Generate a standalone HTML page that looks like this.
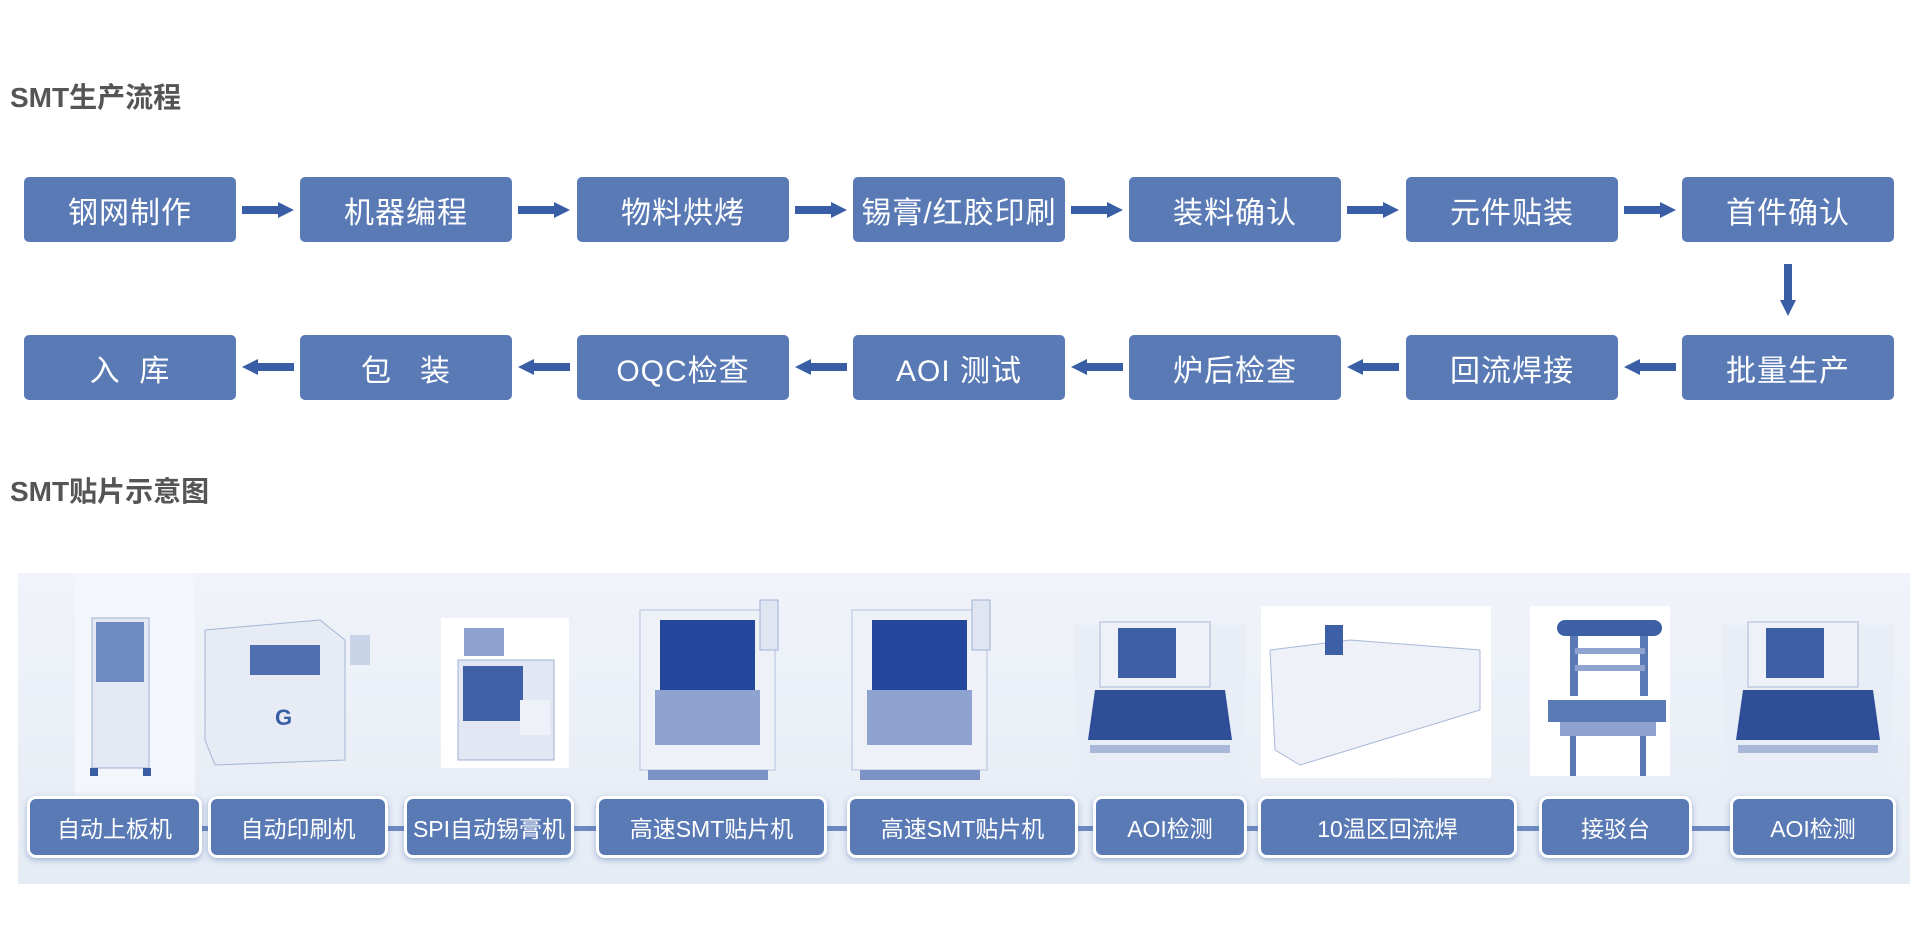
<!DOCTYPE html>
<html><head><meta charset="utf-8">
<style>
*{margin:0;padding:0;box-sizing:border-box}
body{width:1920px;height:928px;background:#fff;position:relative;overflow:hidden;font-family:"Liberation Sans","Noto Sans CJK SC",sans-serif}
.t{position:absolute;left:10px;font-weight:bold;font-size:28px;color:#555}
.b{position:absolute;width:212px;height:65px;background:#5a7ab6;border-radius:5px;color:#fff;font-size:30px;display:flex;align-items:center;justify-content:center;letter-spacing:1px}
.l{position:absolute;top:796px;height:62px;background:#5a7ab6;border:3px solid #fff;border-radius:9px;color:#fff;font-size:23px;display:flex;align-items:center;justify-content:center;box-shadow:0 2px 6px rgba(90,120,180,.5)}
</style></head><body>
<div class="t" style="top:76px">SMT生产流程</div>
<div class="t" style="top:470px">SMT贴片示意图</div>

<div class="b" style="left:24px;top:177px">钢网制作</div>
<div class="b" style="left:300px;top:177px">机器编程</div>
<div class="b" style="left:577px;top:177px">物料烘烤</div>
<div class="b" style="left:853px;top:177px">锡膏/红胶印刷</div>
<div class="b" style="left:1129px;top:177px">装料确认</div>
<div class="b" style="left:1406px;top:177px">元件贴装</div>
<div class="b" style="left:1682px;top:177px">首件确认</div>

<div class="b" style="left:24px;top:335px">入&nbsp;&nbsp;库</div>
<div class="b" style="left:300px;top:335px">包&nbsp;&nbsp;&nbsp;装</div>
<div class="b" style="left:577px;top:335px">OQC检查</div>
<div class="b" style="left:853px;top:335px">AOI 测试</div>
<div class="b" style="left:1129px;top:335px">炉后检查</div>
<div class="b" style="left:1406px;top:335px">回流焊接</div>
<div class="b" style="left:1682px;top:335px">批量生产</div>

<svg style="position:absolute;left:0;top:0" width="1920" height="928">
<defs>
<g id="ar"><rect x="0" y="-4" width="38" height="8" fill="#3a5ea6"/><polygon points="36,-8 52,0 36,8" fill="#3a5ea6"/></g>
<linearGradient id="bg" x1="0" x2="0" y1="0" y2="1"><stop offset="0" stop-color="#f0f3f9"/><stop offset="1" stop-color="#e6ecf5"/></linearGradient>
</defs>
<g>
<use href="#ar" x="242" y="210"/><use href="#ar" x="518" y="210"/><use href="#ar" x="795" y="210"/>
<use href="#ar" x="1071" y="210"/><use href="#ar" x="1347" y="210"/><use href="#ar" x="1624" y="210"/>
<g transform="translate(1788,264) rotate(90)"><use href="#ar"/></g>
<g transform="translate(294,367) rotate(180)"><use href="#ar"/></g>
<g transform="translate(570,367) rotate(180)"><use href="#ar"/></g>
<g transform="translate(847,367) rotate(180)"><use href="#ar"/></g>
<g transform="translate(1123,367) rotate(180)"><use href="#ar"/></g>
<g transform="translate(1399,367) rotate(180)"><use href="#ar"/></g>
<g transform="translate(1676,367) rotate(180)"><use href="#ar"/></g>
</g>
<rect x="18" y="573" width="1892" height="311" fill="url(#bg)"/>
<rect x="75" y="573" width="120" height="240" fill="#f3f6fa"/>
<rect x="441" y="618" width="128" height="150" fill="#fff"/>
<rect x="1261" y="606" width="230" height="172" fill="#fff"/>
<rect x="1530" y="606" width="140" height="170" fill="#fff"/>
<rect x="92" y="618" width="57" height="150" fill="#e4e9f3" stroke="#9fb1d4"/>
<rect x="96" y="622" width="48" height="60" fill="#6f8ac0"/>
<rect x="90" y="768" width="8" height="8" fill="#3a5ea6"/><rect x="143" y="768" width="8" height="8" fill="#3a5ea6"/>
<polygon points="205,630 320,620 345,640 345,760 215,765 205,740" fill="#e6ebf4" stroke="#a5b6d6"/>
<rect x="250" y="645" width="70" height="30" fill="#4f6fb0"/>
<rect x="350" y="635" width="20" height="30" fill="#c9d4e9"/>
<text x="275" y="725" font-size="22" font-weight="bold" fill="#3a5ea6">G</text>
<rect x="464" y="628" width="40" height="28" fill="#8ea3cf"/>
<rect x="458" y="660" width="96" height="100" fill="#e2e8f3" stroke="#9fb1d4"/>
<rect x="463" y="666" width="60" height="55" fill="#3f60a6"/>
<rect x="520" y="700" width="30" height="35" fill="#eef2f8"/>
<g id="pp">
<rect x="640" y="610" width="135" height="160" fill="#eef2f8" stroke="#b3c1dd"/>
<rect x="660" y="620" width="95" height="70" fill="#23479a"/>
<rect x="655" y="690" width="105" height="55" fill="#8ea3cf"/>
<rect x="760" y="600" width="18" height="50" fill="#dfe6f2" stroke="#9fb1d4"/>
<rect x="648" y="770" width="120" height="10" fill="#7c93c6"/>
</g>
<use href="#pp" x="212"/>
<g id="aoi">
<rect x="1075" y="625" width="170" height="160" fill="#e8edf6"/>
<rect x="1100" y="622" width="110" height="65" fill="#eef2f8" stroke="#a9b8d8"/>
<rect x="1118" y="628" width="58" height="50" fill="#3d5fa5"/>
<polygon points="1095,690 1225,690 1232,740 1088,740" fill="#2e4f98"/>
<rect x="1090" y="745" width="140" height="8" fill="#a9b8d8"/>
</g>
<use href="#aoi" x="648"/>
<polygon points="1270,650 1350,640 1480,650 1480,710 1300,765 1275,750" fill="#eef1f7" stroke="#a9b8d8"/>
<rect x="1325" y="625" width="18" height="30" fill="#3d5fa5"/>
<rect x="1557" y="620" width="105" height="16" rx="8" fill="#3d5fa5"/>
<rect x="1570" y="636" width="8" height="60" fill="#5a7ab6"/><rect x="1640" y="636" width="8" height="60" fill="#5a7ab6"/>
<rect x="1575" y="648" width="70" height="6" fill="#8ea3cf"/><rect x="1575" y="665" width="70" height="6" fill="#8ea3cf"/>
<rect x="1548" y="700" width="118" height="22" fill="#5a7ab6"/>
<rect x="1560" y="722" width="96" height="14" fill="#8ea3cf"/>
<rect x="1570" y="736" width="6" height="40" fill="#5a7ab6"/><rect x="1640" y="736" width="6" height="40" fill="#5a7ab6"/>
<rect x="30" y="826" width="1860" height="5" fill="#6d89c0"/>
</svg>

<div class="l" style="left:27px;width:175px">自动上板机</div>
<div class="l" style="left:208px;width:180px">自动印刷机</div>
<div class="l" style="left:404px;width:170px">SPI自动锡膏机</div>
<div class="l" style="left:596px;width:231px">高速SMT贴片机</div>
<div class="l" style="left:847px;width:231px">高速SMT贴片机</div>
<div class="l" style="left:1093px;width:154px">AOI检测</div>
<div class="l" style="left:1258px;width:259px">10温区回流焊</div>
<div class="l" style="left:1539px;width:153px">接驳台</div>
<div class="l" style="left:1730px;width:166px">AOI检测</div>
</body></html>
